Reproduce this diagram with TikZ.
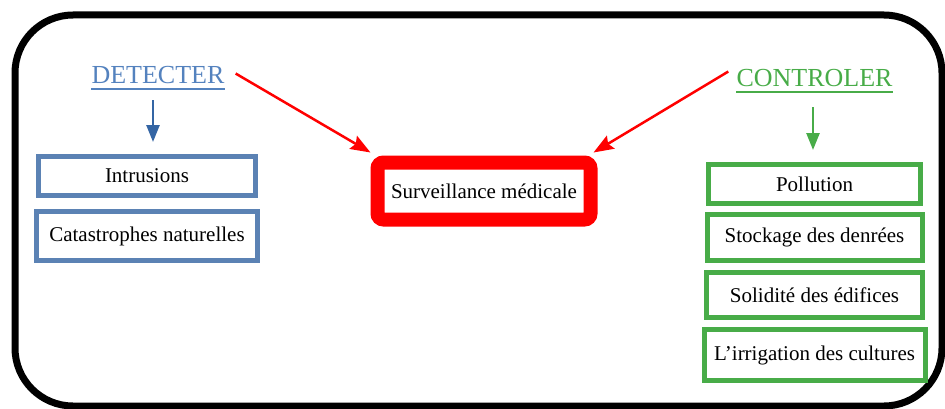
\documentclass[tikz,border=0pt]{standalone}
\usepackage{fontspec}
\setmainfont{Liberation Serif}
\usetikzlibrary{arrows.meta,positioning}
\definecolor{detblue}{RGB}{84,130,190}
\definecolor{boxblue}{RGB}{91,130,180}
\definecolor{arrblue}{RGB}{52,101,164}
\definecolor{ctlgreen}{RGB}{72,172,72}

\begin{document}
\begin{tikzpicture}[x=1pt,y=1pt,
  box/.style={rectangle,draw,line width=5pt,fill=white,inner sep=0pt,
              font=\fontsize{21}{25}\selectfont},
  head/.style={inner sep=0pt,anchor=base,font=\fontsize{26}{30}\selectfont},
  arr/.style={-{Triangle[length=17pt,width=13pt]},line width=2.5pt},
  redarr/.style={-{Stealth[length=20pt,width=15pt,inset=3pt]},line width=2.5pt,red}]
  \useasboundingbox (0,0) rectangle (945,408);
  \draw[line width=7pt,rounded corners=58pt] (15,393) rectangle (942,2);
  \node[head,text=detblue](det) at (158,324){DETECTER};
  \node[head,text=ctlgreen](ctl) at (814.5,321){CONTROLER};
  \draw[detblue,line width=2pt]([yshift=-4.5pt]det.base west)--([yshift=-4.5pt]det.base east);
  \draw[ctlgreen,line width=2pt]([yshift=-5pt]ctl.base west)--([yshift=-5pt]ctl.base east);
  \node[box,draw=boxblue,minimum width=217pt,minimum height=39pt](intr) at (147,232){Intrusions};
  \node[box,draw=boxblue,minimum width=221pt,minimum height=49pt,below=11pt of intr](cata){Catastrophes naturelles};
  \node[box,draw=red,line width=14pt,rounded corners=6pt,minimum width=213pt,minimum height=57pt](surv) at (484,217){Surveillance médicale};
  \node[box,draw=ctlgreen,minimum width=212pt,minimum height=39pt](poll) at (814.5,224){Pollution};
  \node[box,draw=ctlgreen,minimum width=215pt,minimum height=46pt,below=6pt of poll](stock){Stockage des denrées};
  \node[box,draw=ctlgreen,minimum width=216pt,minimum height=45pt,below=7pt of stock](solid){Solidité des édifices};
  \node[box,draw=ctlgreen,minimum width=221pt,minimum height=51pt,below=7pt of solid](irrig){L’irrigation des cultures};
  \draw[arr,arrblue]([xshift=-5pt,yshift=-16pt]det.base)--([xshift=-5pt,yshift=12pt]det.base |- intr.north);
  \draw[arr,ctlgreen]([xshift=-1.5pt,yshift=-20pt]ctl.base)--([xshift=-1.5pt,yshift=12pt]ctl.base |- poll.north);
  \draw[redarr]([shift={(11pt,2pt)}]det.east)--([yshift=3pt]surv.north west);
  \draw[redarr]([shift={(-8pt,7pt)}]ctl.west)--([shift={(-4pt,3pt)}]surv.north east);
\end{tikzpicture}
\end{document}
